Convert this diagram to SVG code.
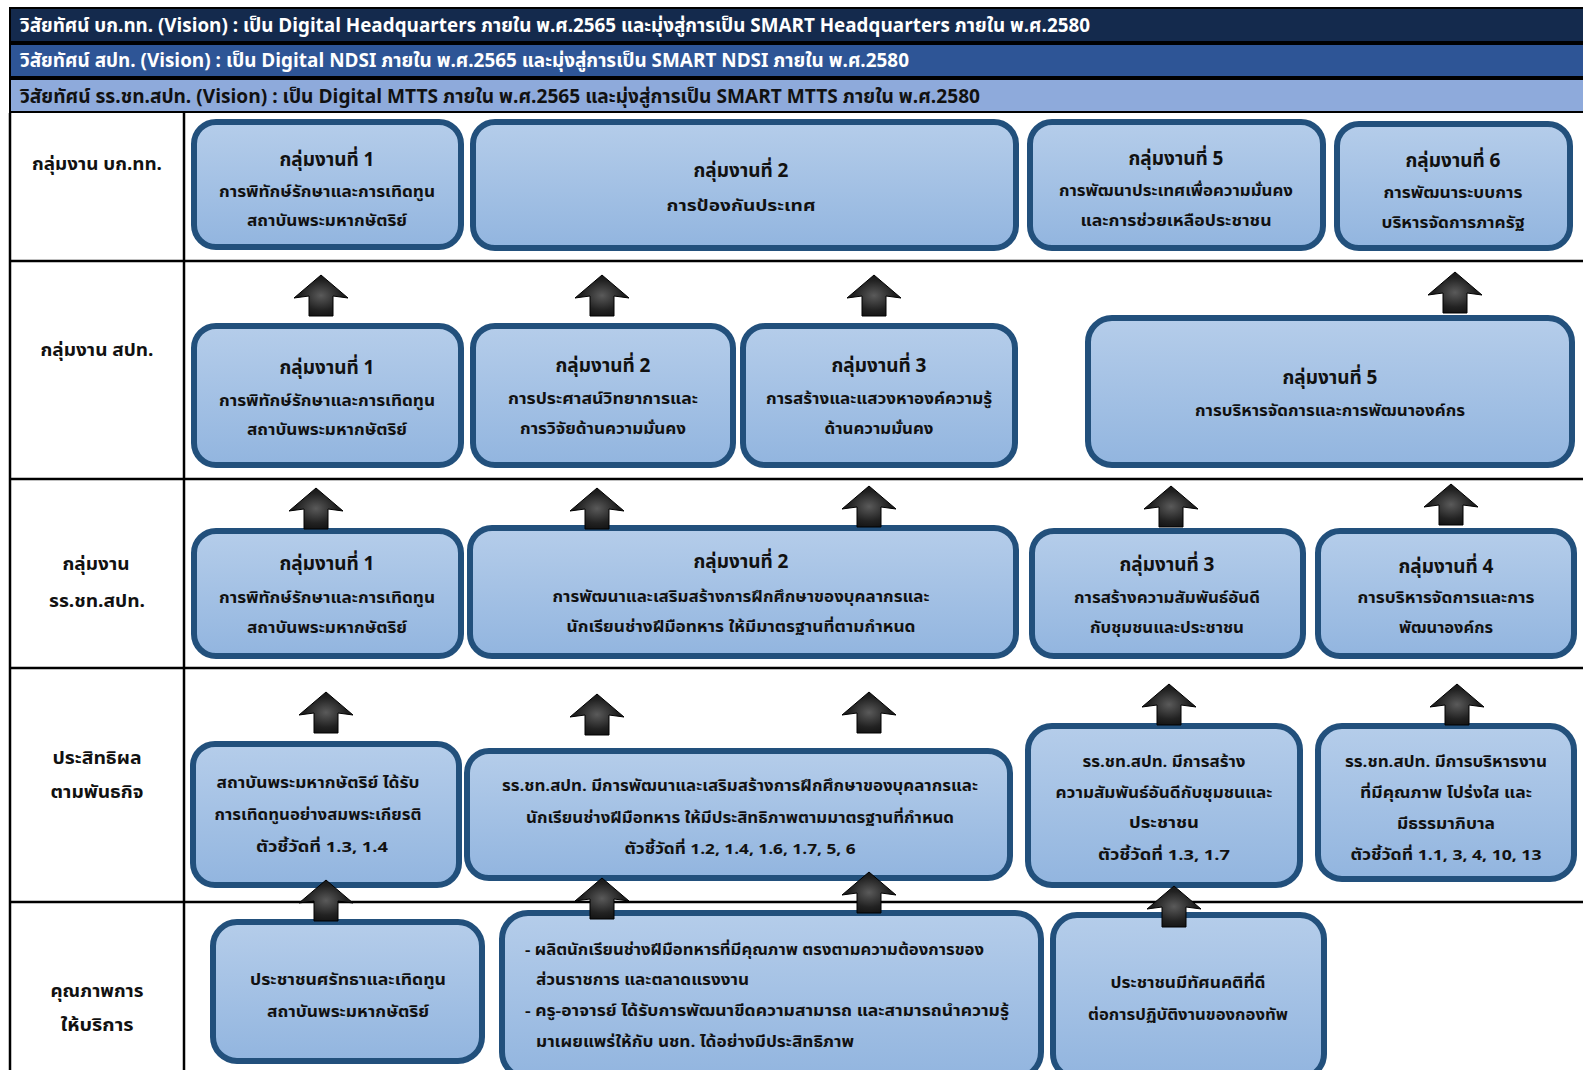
<svg xmlns="http://www.w3.org/2000/svg" width="1583" height="1070" viewBox="0 0 1583 1070">
<defs>
<linearGradient id="bf" x1="0" y1="0" x2="0" y2="1">
<stop offset="0" stop-color="#B5CDEA"/>
<stop offset="1" stop-color="#92B5DF"/>
</linearGradient>
<radialGradient id="af" cx="0.5" cy="0.5" r="0.6">
<stop offset="0" stop-color="#5a5a5a"/>
<stop offset="0.6" stop-color="#222"/>
<stop offset="1" stop-color="#0d0d0d"/>
</radialGradient>
<path id="arw" d="M0,0 L27,23 L12,21 L12,41 L-12,41 L-12,21 L-27,23 Z"/>
</defs>
<style>
text{font-family:"Noto Sans Thai","Tahoma","Noto Sans","DejaVu Sans",sans-serif;font-weight:bold;fill:#111}
.hd{font-size:19px}
.w{fill:#fff}
.lb{font-size:18px;text-anchor:middle}
.t{font-size:19px;text-anchor:middle}
.s{font-size:15px;text-anchor:middle}
.sl{font-size:15px}
.box{fill:url(#bf);stroke:#22507C;stroke-width:6}
.ln{stroke:#000;stroke-width:2.5;fill:none}
.ar{fill:url(#af);stroke:#000;stroke-width:1}
</style>
<rect width="1583" height="1070" fill="#fff"/>
<g id="headers">
<rect x="10" y="8" width="1580" height="34" fill="#142A4D" stroke="#000" stroke-width="2"/>
<text class="hd w" x="20" y="32" textLength="1070" lengthAdjust="spacingAndGlyphs">วิสัยทัศน์ บก.ทท. (Vision) : เป็น Digital Headquarters ภายใน พ.ศ.2565 และมุ่งสู่การเป็น SMART Headquarters ภายใน พ.ศ.2580</text>
<rect x="10" y="44" width="1580" height="33" fill="#2E5596" stroke="#000" stroke-width="2"/>
<text class="hd w" x="20" y="67" textLength="889" lengthAdjust="spacingAndGlyphs">วิสัยทัศน์ สปท. (Vision) : เป็น Digital NDSI ภายใน พ.ศ.2565 และมุ่งสู่การเป็น SMART NDSI ภายใน พ.ศ.2580</text>
<rect x="10" y="79" width="1580" height="33" fill="#8EAADB" stroke="#000" stroke-width="2"/>
<text class="hd" x="20" y="103" textLength="960" lengthAdjust="spacingAndGlyphs">วิสัยทัศน์ รร.ชท.สปท. (Vision) : เป็น Digital MTTS ภายใน พ.ศ.2565 และมุ่งสู่การเป็น SMART MTTS ภายใน พ.ศ.2580</text>
</g>
<g id="grid">
<line class="ln" x1="10" y1="113" x2="10" y2="1070"/>
<line class="ln" x1="184" y1="113" x2="184" y2="1070"/>
<line class="ln" x1="10" y1="261" x2="1583" y2="261"/>
<line class="ln" x1="10" y1="479" x2="1583" y2="479"/>
<line class="ln" x1="10" y1="668" x2="1583" y2="668"/>
<line class="ln" x1="10" y1="902" x2="1583" y2="902"/>
</g>
<g id="row-labels">
<text class="lb" x="97" y="170" textLength="130" lengthAdjust="spacingAndGlyphs">กลุ่มงาน บก.ทท.</text>
<text class="lb" x="97" y="356" textLength="113" lengthAdjust="spacingAndGlyphs">กลุ่มงาน สปท.</text>
<text class="lb" x="96" y="570" textLength="67" lengthAdjust="spacingAndGlyphs">กลุ่มงาน</text>
<text class="lb" x="97" y="607" textLength="96" lengthAdjust="spacingAndGlyphs">รร.ชท.สปท.</text>
<text class="lb" x="97" y="764" textLength="89" lengthAdjust="spacingAndGlyphs">ประสิทธิผล</text>
<text class="lb" x="97" y="798" textLength="93" lengthAdjust="spacingAndGlyphs">ตามพันธกิจ</text>
<text class="lb" x="97" y="997" textLength="93" lengthAdjust="spacingAndGlyphs">คุณภาพการ</text>
<text class="lb" x="97" y="1031" textLength="73" lengthAdjust="spacingAndGlyphs">ให้บริการ</text>
</g>
<g id="r1-b1"><rect class="box" x="194" y="122" width="267" height="125" rx="22"/>
<text class="t" x="327" y="166" textLength="95" lengthAdjust="spacingAndGlyphs">กลุ่มงานที่ 1</text>
<text class="s" x="327" y="197" textLength="216" lengthAdjust="spacingAndGlyphs">การพิทักษ์รักษาและการเทิดทูน</text>
<text class="s" x="327" y="226" textLength="160" lengthAdjust="spacingAndGlyphs">สถาบันพระมหากษัตริย์</text></g>
<g id="r1-b2"><rect class="box" x="473" y="122" width="543" height="126" rx="22"/>
<text class="t" x="741" y="177" textLength="95" lengthAdjust="spacingAndGlyphs">กลุ่มงานที่ 2</text>
<text class="s" x="741" y="211" textLength="149" lengthAdjust="spacingAndGlyphs">การป้องกันประเทศ</text></g>
<g id="r1-b5"><rect class="box" x="1030" y="122" width="293" height="126" rx="22"/>
<text class="t" x="1176" y="165" textLength="95" lengthAdjust="spacingAndGlyphs">กลุ่มงานที่ 5</text>
<text class="s" x="1176" y="196" textLength="234" lengthAdjust="spacingAndGlyphs">การพัฒนาประเทศเพื่อความมั่นคง</text>
<text class="s" x="1176" y="226" textLength="191" lengthAdjust="spacingAndGlyphs">และการช่วยเหลือประชาชน</text></g>
<g id="r1-b6"><rect class="box" x="1337" y="124" width="233" height="124" rx="22"/>
<text class="t" x="1453" y="167" textLength="95" lengthAdjust="spacingAndGlyphs">กลุ่มงานที่ 6</text>
<text class="s" x="1453" y="198" textLength="139" lengthAdjust="spacingAndGlyphs">การพัฒนาระบบการ</text>
<text class="s" x="1453" y="228" textLength="143" lengthAdjust="spacingAndGlyphs">บริหารจัดการภาครัฐ</text></g>
<g id="r2-b1"><rect class="box" x="194" y="326" width="267" height="139" rx="22"/>
<text class="t" x="327" y="374" textLength="95" lengthAdjust="spacingAndGlyphs">กลุ่มงานที่ 1</text>
<text class="s" x="327" y="406" textLength="216" lengthAdjust="spacingAndGlyphs">การพิทักษ์รักษาและการเทิดทูน</text>
<text class="s" x="327" y="435" textLength="160" lengthAdjust="spacingAndGlyphs">สถาบันพระมหากษัตริย์</text></g>
<g id="r2-b2"><rect class="box" x="473" y="326" width="260" height="139" rx="22"/>
<text class="t" x="603" y="372" textLength="95" lengthAdjust="spacingAndGlyphs">กลุ่มงานที่ 2</text>
<text class="s" x="603" y="404" textLength="190" lengthAdjust="spacingAndGlyphs">การประศาสน์วิทยาการและ</text>
<text class="s" x="603" y="434" textLength="166" lengthAdjust="spacingAndGlyphs">การวิจัยด้านความมั่นคง</text></g>
<g id="r2-b3"><rect class="box" x="743" y="326" width="272" height="139" rx="22"/>
<text class="t" x="879" y="372" textLength="95" lengthAdjust="spacingAndGlyphs">กลุ่มงานที่ 3</text>
<text class="s" x="879" y="404" textLength="226" lengthAdjust="spacingAndGlyphs">การสร้างและแสวงหาองค์ความรู้</text>
<text class="s" x="879" y="434" textLength="109" lengthAdjust="spacingAndGlyphs">ด้านความมั่นคง</text></g>
<g id="r2-b5"><rect class="box" x="1088" y="318" width="484" height="147" rx="24"/>
<text class="t" x="1330" y="384" textLength="95" lengthAdjust="spacingAndGlyphs">กลุ่มงานที่ 5</text>
<text class="s" x="1330" y="416" textLength="270" lengthAdjust="spacingAndGlyphs">การบริหารจัดการและการพัฒนาองค์กร</text></g>
<g id="r3-b1"><rect class="box" x="194" y="531" width="267" height="125" rx="22"/>
<text class="t" x="327" y="570" textLength="95" lengthAdjust="spacingAndGlyphs">กลุ่มงานที่ 1</text>
<text class="s" x="327" y="603" textLength="216" lengthAdjust="spacingAndGlyphs">การพิทักษ์รักษาและการเทิดทูน</text>
<text class="s" x="327" y="633" textLength="160" lengthAdjust="spacingAndGlyphs">สถาบันพระมหากษัตริย์</text></g>
<g id="r3-b2"><rect class="box" x="470" y="528" width="546" height="128" rx="22"/>
<text class="t" x="741" y="568" textLength="95" lengthAdjust="spacingAndGlyphs">กลุ่มงานที่ 2</text>
<text class="s" x="741" y="602" textLength="377" lengthAdjust="spacingAndGlyphs">การพัฒนาและเสริมสร้างการฝึกศึกษาของบุคลากรและ</text>
<text class="s" x="741" y="632" textLength="349" lengthAdjust="spacingAndGlyphs">นักเรียนช่างฝีมือทหาร ให้มีมาตรฐานที่ตามกำหนด</text></g>
<g id="r3-b3"><rect class="box" x="1032" y="531" width="271" height="125" rx="22"/>
<text class="t" x="1167" y="571" textLength="95" lengthAdjust="spacingAndGlyphs">กลุ่มงานที่ 3</text>
<text class="s" x="1167" y="603" textLength="186" lengthAdjust="spacingAndGlyphs">การสร้างความสัมพันธ์อันดี</text>
<text class="s" x="1167" y="633" textLength="154" lengthAdjust="spacingAndGlyphs">กับชุมชนและประชาชน</text></g>
<g id="r3-b4"><rect class="box" x="1318" y="531" width="256" height="125" rx="22"/>
<text class="t" x="1446" y="573" textLength="95" lengthAdjust="spacingAndGlyphs">กลุ่มงานที่ 4</text>
<text class="s" x="1446" y="603" textLength="177" lengthAdjust="spacingAndGlyphs">การบริหารจัดการและการ</text>
<text class="s" x="1446" y="633" textLength="94" lengthAdjust="spacingAndGlyphs">พัฒนาองค์กร</text></g>
<g id="r4-b1"><rect class="box" x="193" y="744" width="266" height="141" rx="22"/>
<text class="s" x="318" y="788" textLength="203" lengthAdjust="spacingAndGlyphs">สถาบันพระมหากษัตริย์ ได้รับ</text>
<text class="s" x="318" y="820" textLength="207" lengthAdjust="spacingAndGlyphs">การเทิดทูนอย่างสมพระเกียรติ</text>
<text class="s" x="322" y="852" textLength="132" lengthAdjust="spacingAndGlyphs">ตัวชี้วัดที่  1.3, 1.4</text></g>
<g id="r4-b2"><rect class="box" x="467" y="751" width="543" height="127" rx="22"/>
<text class="s" x="740" y="791" textLength="476" lengthAdjust="spacingAndGlyphs">รร.ชท.สปท. มีการพัฒนาและเสริมสร้างการฝึกศึกษาของบุคลากรและ</text>
<text class="s" x="740" y="823" textLength="428" lengthAdjust="spacingAndGlyphs">นักเรียนช่างฝีมือทหาร ให้มีประสิทธิภาพตามมาตรฐานที่กำหนด</text>
<text class="s" x="740" y="854" textLength="231" lengthAdjust="spacingAndGlyphs">ตัวชี้วัดที่ 1.2, 1.4, 1.6, 1.7, 5, 6</text></g>
<g id="r4-b3"><rect class="box" x="1028" y="726" width="272" height="159" rx="24"/>
<text class="s" x="1164" y="767" textLength="163" lengthAdjust="spacingAndGlyphs">รร.ชท.สปท. มีการสร้าง</text>
<text class="s" x="1164" y="798" textLength="217" lengthAdjust="spacingAndGlyphs">ความสัมพันธ์อันดีกับชุมชนและ</text>
<text class="s" x="1164" y="828" textLength="70" lengthAdjust="spacingAndGlyphs">ประชาชน</text>
<text class="s" x="1164" y="860" textLength="132" lengthAdjust="spacingAndGlyphs">ตัวชี้วัดที่  1.3, 1.7</text></g>
<g id="r4-b4"><rect class="box" x="1318" y="726" width="256" height="153" rx="24"/>
<text class="s" x="1446" y="767" textLength="202" lengthAdjust="spacingAndGlyphs">รร.ชท.สปท. มีการบริหารงาน</text>
<text class="s" x="1446" y="798" textLength="172" lengthAdjust="spacingAndGlyphs">ที่มีคุณภาพ โปร่งใส และ</text>
<text class="s" x="1446" y="829" textLength="98" lengthAdjust="spacingAndGlyphs">มีธรรมาภิบาล</text>
<text class="s" x="1446" y="860" textLength="191" lengthAdjust="spacingAndGlyphs">ตัวชี้วัดที่ 1.1, 3, 4, 10, 13</text></g>
<g id="r5-b1"><rect class="box" x="213" y="922" width="269" height="139" rx="24"/>
<text class="s" x="348" y="985" textLength="196" lengthAdjust="spacingAndGlyphs">ประชาชนศรัทธาและเทิดทูน</text>
<text class="s" x="348" y="1017" textLength="162" lengthAdjust="spacingAndGlyphs">สถาบันพระมหากษัตริย์</text></g>
<g id="r5-b2"><rect class="box" x="502" y="913" width="539" height="165" rx="26"/>
<text class="sl" x="525" y="955" textLength="459" lengthAdjust="spacingAndGlyphs">- ผลิตนักเรียนช่างฝีมือทหารที่มีคุณภาพ ตรงตามความต้องการของ</text>
<text class="sl" x="536" y="985" textLength="213" lengthAdjust="spacingAndGlyphs">ส่วนราชการ และตลาดแรงงาน</text>
<text class="sl" x="525" y="1016" textLength="484" lengthAdjust="spacingAndGlyphs">- ครู-อาจารย์ ได้รับการพัฒนาขีดความสามารถ และสามารถนำความรู้</text>
<text class="sl" x="536" y="1047" textLength="318" lengthAdjust="spacingAndGlyphs">มาเผยแพร่ให้กับ นชท. ได้อย่างมีประสิทธิภาพ</text></g>
<g id="r5-b3"><rect class="box" x="1053" y="915" width="271" height="163" rx="24"/>
<text class="s" x="1188" y="988" textLength="155" lengthAdjust="spacingAndGlyphs">ประชาชนมีทัศนคติที่ดี</text>
<text class="s" x="1188" y="1020" textLength="200" lengthAdjust="spacingAndGlyphs">ต่อการปฏิบัติงานของกองทัพ</text></g>
<g id="connectors">
<use href="#arw" class="ar" x="321" y="275"/>
<use href="#arw" class="ar" x="602" y="275"/>
<use href="#arw" class="ar" x="874" y="275"/>
<use href="#arw" class="ar" x="1455" y="272"/>
<use href="#arw" class="ar" x="316" y="488"/>
<use href="#arw" class="ar" x="597" y="488"/>
<use href="#arw" class="ar" x="869" y="486"/>
<use href="#arw" class="ar" x="1171" y="486"/>
<use href="#arw" class="ar" x="1451" y="484"/>
<use href="#arw" class="ar" x="326" y="692"/>
<use href="#arw" class="ar" x="597" y="694"/>
<use href="#arw" class="ar" x="869" y="692"/>
<use href="#arw" class="ar" x="1169" y="684"/>
<use href="#arw" class="ar" x="1457" y="684"/>
<use href="#arw" class="ar" x="326" y="880"/>
<use href="#arw" class="ar" x="602" y="878"/>
<use href="#arw" class="ar" x="869" y="872"/>
<use href="#arw" class="ar" x="1174" y="886"/>
</g>
</svg>
